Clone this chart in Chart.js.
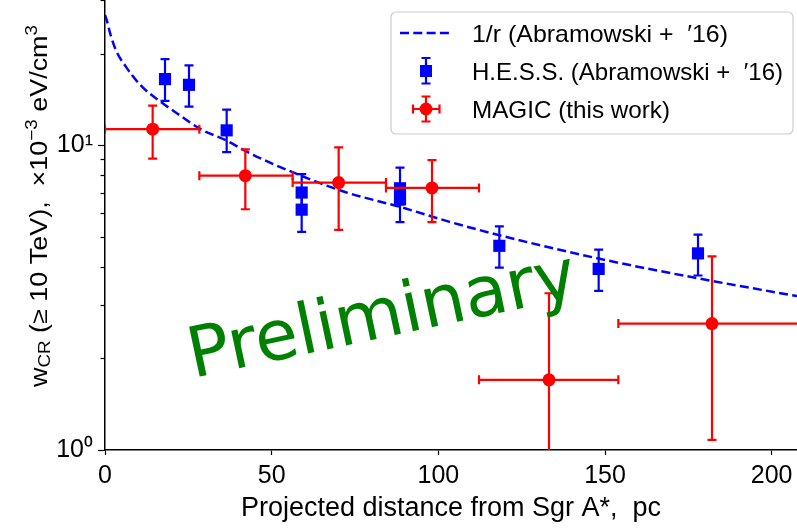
<!DOCTYPE html>
<html>
<head>
<meta charset="utf-8">
<script src="https://cdn.jsdelivr.net/npm/chart.js@4.4.1/dist/chart.umd.min.js"></script>
<style>
  html, body { margin: 0; padding: 0; background: #ffffff; }
  #wrap { width: 797px; height: 531px; }
</style>
</head>
<body>
<div id="wrap"><canvas id="c" width="797" height="531"></canvas></div>
<script>
// ---------------- data ----------------
// 1/r model curve (Abramowski+ '16)
const modelR = [0, 0.5, 1.6, 3.3, 6.3, 10.8, 16.7, 22.7, 28.7, 36.2, 43.6, 58.6, 72.0, 88.5, 103.4, 118.3, 148.1, 177.9, 207.6];
const modelW = [26.8, 25.8, 23.2, 20.5, 18.1, 15.7, 13.9, 12.5, 11.3, 10.4, 9.4, 7.97, 7.03, 6.28, 5.61, 5.07, 4.25, 3.66, 3.2];

// H.E.S.S. points
const hessR  = [18.0, 25.2, 36.5, 59.0, 59.0, 88.5, 88.5, 118.3, 148.1, 177.9];
const hessW  = [16.5, 15.8, 11.2, 7.0, 6.15, 7.23, 6.65, 4.68, 3.93, 4.42];
const hessHi = [19.2, 18.3, 13.1, 8.05, 7.1, 8.45, 7.4, 5.42, 4.55, 5.09];
const hessLo = [14.0, 13.4, 9.5, 6.0, 5.2, 6.4, 5.6, 3.97, 3.33, 3.74];

// MAGIC points
const magicR   = [14.3, 42.1, 70.1, 98.1, 133.2, 182.1];
const magicRLo = [0, 28.3, 56.3, 84.3, 112.2, 154.0];
const magicRHi = [28.3, 56.3, 84.3, 112.2, 154.0, 210.2];
const magicW   = [11.3, 7.95, 7.55, 7.25, 1.70, 2.6];
const magicHi  = [13.5, 9.7, 9.85, 8.95, 3.27, 4.32];
const magicLo  = [9.05, 6.17, 5.28, 5.6, 0.5, 1.08];

// axes
const xTicks = [0, 50, 100, 150, 200];
const yTicks = [1, 2, 3, 4, 5, 6, 7, 8, 9, 10, 20, 30];
const yTickLabels = {1: '10\u2070', 10: '10\u00B9'};
const legendLabels = ['1/r (Abramowski +  \u203216)', 'H.E.S.S. (Abramowski +  \u203216)', 'MAGIC (this work)'];
const xTitle = 'Projected distance from Sgr A*,  pc';
const watermark = 'Preliminary';

const BLUE = '#0000ff', RED = '#ff0000', GREEN = '#008000';
const FONT = '"Liberation Sans", Arial, sans-serif';

// ---------------- helpers ----------------
function fitText(ctx, text, x, y, targetW) {
  const w = ctx.measureText(text).width;
  ctx.save();
  ctx.translate(x, y);
  ctx.scale(targetW / w, 1);
  ctx.fillText(text, 0, 0);
  ctx.restore();
}
function vbar(ctx, x, y1, y2, cap) {
  ctx.beginPath();
  ctx.moveTo(x, y1); ctx.lineTo(x, y2);
  ctx.moveTo(x - cap, y1); ctx.lineTo(x + cap, y1);
  ctx.moveTo(x - cap, y2); ctx.lineTo(x + cap, y2);
  ctx.stroke();
}
function hbar(ctx, y, x1, x2, cap) {
  ctx.beginPath();
  ctx.moveTo(x1, y); ctx.lineTo(x2, y);
  ctx.moveTo(x1, y - cap); ctx.lineTo(x1, y + cap);
  ctx.moveTo(x2, y - cap); ctx.lineTo(x2, y + cap);
  ctx.stroke();
}

// error bars drawn under each dataset's markers
const errorBars = {
  id: 'errorBars',
  beforeDatasetDraw(chart, args) {
    const ctx = chart.ctx, xs = chart.scales.x, ys = chart.scales.y, a = chart.chartArea;
    const lbl = chart.data.datasets[args.index].label;
    if (lbl !== 'hess' && lbl !== 'magic') return;
    ctx.save();
    ctx.beginPath();
    ctx.rect(a.left, a.top, a.right - a.left, a.bottom - a.top);
    ctx.clip();
    ctx.lineWidth = 2.2;
    if (lbl === 'hess') {
      ctx.strokeStyle = BLUE;
      hessR.forEach((r, i) => {
        vbar(ctx, xs.getPixelForValue(r), ys.getPixelForValue(hessHi[i]), ys.getPixelForValue(hessLo[i]), 4.5);
      });
    } else {
      ctx.strokeStyle = RED;
      magicR.forEach((r, i) => {
        const px = xs.getPixelForValue(r), py = ys.getPixelForValue(magicW[i]);
        vbar(ctx, px, ys.getPixelForValue(magicHi[i]), ys.getPixelForValue(magicLo[i]), 4.5);
        hbar(ctx, py, xs.getPixelForValue(magicRLo[i]), xs.getPixelForValue(magicRHi[i]), 4.5);
      });
    }
    ctx.restore();
  }
};

// minor y ticks, y axis title, watermark, legend
const decorations = {
  id: 'decorations',
  afterDatasetsDraw(chart) {
    const ctx = chart.ctx;
    // watermark
    ctx.save();
    ctx.translate(193, 378);
    ctx.rotate(-12 * Math.PI / 180);
    ctx.fillStyle = GREEN;
    ctx.font = '70px "DejaVu Sans", sans-serif';
    ctx.textBaseline = 'alphabetic';
    ctx.fillText(watermark, 0, 0);
    ctx.restore();
  },
  afterDraw(chart) {
    const ctx = chart.ctx, a = chart.chartArea, ys = chart.scales.y;
    // minor y ticks (short)
    ctx.save();
    ctx.strokeStyle = '#000'; ctx.lineWidth = 1.2;
    yTicks.forEach(v => {
      if (yTickLabels[v]) return;
      const py = Math.round(ys.getPixelForValue(v)) + 0.5;
      ctx.beginPath(); ctx.moveTo(a.left - 4.5, py); ctx.lineTo(a.left, py); ctx.stroke();
    });
    ctx.restore();

    // y axis title (rotated, with sub/superscripts)
    ctx.save();
    ctx.translate(47, 387);
    ctx.rotate(-Math.PI / 2);
    ctx.fillStyle = '#000';
    ctx.textBaseline = 'alphabetic';
    const parts = [
      ['w', 23, 0], ['CR', 16, 3], [' (\u2265 10 TeV),  \u00D710', 23, 0],
      ['\u22123', 16, -10], [' eV/cm', 23, 0], ['3', 16, -10]
    ];
    let total = 0;
    parts.forEach(p => { ctx.font = p[1] + 'px ' + FONT; p.push(ctx.measureText(p[0]).width); total += p[3]; });
    const sx = 362 / total;
    let cx = 0;
    parts.forEach(p => {
      ctx.font = p[1] + 'px ' + FONT;
      ctx.save(); ctx.translate(cx, p[2]); ctx.scale(sx, 1); ctx.fillText(p[0], 0, 0); ctx.restore();
      cx += p[3] * sx;
    });
    ctx.restore();

    // legend
    ctx.save();
    const bx = 391, by = 12, bw = 402, bh = 122, rr = 5;
    ctx.beginPath();
    ctx.moveTo(bx + rr, by);
    ctx.arcTo(bx + bw, by, bx + bw, by + bh, rr);
    ctx.arcTo(bx + bw, by + bh, bx, by + bh, rr);
    ctx.arcTo(bx, by + bh, bx, by, rr);
    ctx.arcTo(bx, by, bx + bw, by, rr);
    ctx.closePath();
    ctx.fillStyle = 'rgba(255,255,255,0.8)';
    ctx.fill();
    ctx.strokeStyle = '#cccccc'; ctx.lineWidth = 1.2;
    ctx.stroke();
    // row 1: dashed line
    ctx.strokeStyle = BLUE; ctx.lineWidth = 2.5; ctx.setLineDash([9, 4.3]);
    ctx.beginPath(); ctx.moveTo(400, 33); ctx.lineTo(452, 33); ctx.stroke();
    ctx.setLineDash([]);
    // row 2: HESS marker
    ctx.lineWidth = 2.2;
    vbar(ctx, 426, 58, 83.5, 4.5);
    ctx.fillStyle = BLUE; ctx.fillRect(420, 65, 12, 12);
    // row 3: MAGIC marker
    ctx.strokeStyle = RED;
    vbar(ctx, 426, 96.5, 121.5, 4.5);
    hbar(ctx, 109, 413, 439.5, 4.5);
    ctx.fillStyle = RED; ctx.beginPath(); ctx.arc(426, 109, 6.5, 0, 2 * Math.PI); ctx.fill();
    // texts
    ctx.fillStyle = '#000'; ctx.font = '24px ' + FONT; ctx.textBaseline = 'alphabetic';
    fitText(ctx, legendLabels[0], 472, 42, 256);
    fitText(ctx, legendLabels[1], 472, 80, 311);
    fitText(ctx, legendLabels[2], 472, 118, 198);
    ctx.restore();
  }
};

const ctx = document.getElementById('c').getContext('2d');
new Chart(ctx, {
  type: 'scatter',
  data: {
    datasets: [
      {
        label: 'model', type: 'line', order: 3,
        data: modelR.map((r, i) => ({x: r, y: modelW[i]})),
        borderColor: BLUE, borderWidth: 2.5, borderDash: [9, 4.3],
        pointRadius: 0, fill: false, cubicInterpolationMode: 'monotone', showLine: true
      },
      {
        label: 'hess', order: 2,
        data: hessR.map((r, i) => ({x: r, y: hessW[i]})),
        pointStyle: 'rect', pointRadius: 8.6, pointHoverRadius: 8.6,
        backgroundColor: BLUE, borderColor: BLUE, borderWidth: 0
      },
      {
        label: 'magic', order: 1,
        data: magicR.map((r, i) => ({x: r, y: magicW[i]})),
        pointStyle: 'circle', pointRadius: 6.5, pointHoverRadius: 6.5,
        backgroundColor: RED, borderColor: RED, borderWidth: 0
      }
    ]
  },
  options: {
    responsive: false,
    animation: false,
    devicePixelRatio: 1,
    layout: { padding: 0, autoPadding: false },
    plugins: { legend: { display: false }, tooltip: { enabled: false } },
    scales: {
      x: {
        type: 'linear', min: 0, max: 207.6,
        afterBuildTicks: s => { s.ticks = xTicks.map(v => ({value: v})); },
        afterFit: s => { s.height = 81; s.paddingLeft = 0; s.paddingRight = 0; },
        grid: { display: true, drawOnChartArea: false, drawTicks: true, tickLength: 5, tickWidth: 1.2, tickColor: '#000' },
        border: { display: true, color: '#000', width: 1.5 },
        ticks: { color: '#000', font: { family: FONT, size: 25 }, padding: 6, maxRotation: 0 },
        title: { display: true, text: xTitle, color: '#000', font: { family: FONT, size: 27 }, padding: { top: 0, bottom: 6 } }
      },
      y: {
        type: 'logarithmic', min: 1, max: 30,
        afterBuildTicks: s => { s.ticks = yTicks.map(v => ({value: v, major: !!yTickLabels[v]})); },
        afterFit: s => { s.width = 105; s.paddingTop = 0; s.paddingBottom = 0; },
        grid: {
          display: true, drawOnChartArea: false, drawTicks: true, tickLength: 7, tickWidth: 1.2,
          tickColor: c => (c.tick && yTickLabels[c.tick.value]) ? '#000' : 'rgba(0,0,0,0)'
        },
        border: { display: true, color: '#000', width: 1.5 },
        ticks: {
          color: '#000', font: { family: FONT, size: 25 }, padding: 5, autoSkip: false,
          callback: v => yTickLabels[v] || ''
        }
      }
    }
  },
  plugins: [errorBars, decorations]
});
</script>
</body>
</html>
